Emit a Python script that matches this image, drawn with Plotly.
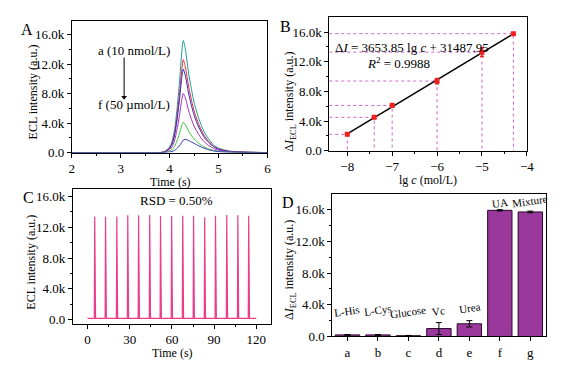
import plotly.graph_objects as go

# ---------- Panel A data (intensity in k a.u.) ----------
time_a = [2.0, 3.8, 3.9, 4.0, 4.05, 4.1, 4.15, 4.2, 4.25, 4.28, 4.32, 4.4, 4.5, 4.6, 4.7, 4.8, 4.9, 5.0, 5.2, 5.5, 6.0]
curve_teal = [0, 0, 0.15, 0.76, 1.52, 3.04, 5.78, 9.42, 13.7, 15.2, 14.1, 10.3, 6.84, 4.56, 2.89, 1.82, 1.06, 0.61, 0.23, 0.08, 0]
curve_red = [0, 0, 0.13, 0.63, 1.26, 2.52, 4.79, 7.81, 11.3, 12.6, 11.7, 8.57, 5.67, 3.78, 2.39, 1.51, 0.88, 0.5, 0.19, 0.06, 0]
curve_blue = [0, 0, 0.11, 0.57, 1.13, 2.26, 4.29, 7.01, 10.2, 11.3, 10.5, 7.68, 5.09, 3.39, 2.15, 1.36, 0.79, 0.45, 0.17, 0.06, 0]
curve_purple = [0, 0, 0.08, 0.4, 0.8, 1.6, 3.04, 4.96, 7.2, 8.0, 7.44, 5.44, 3.6, 2.4, 1.52, 0.96, 0.56, 0.32, 0.12, 0.04, 0]
curve_green = [0, 0, 0.04, 0.21, 0.41, 0.82, 1.56, 2.54, 3.69, 4.1, 3.81, 2.79, 1.85, 1.23, 0.78, 0.49, 0.29, 0.16, 0.06, 0.02, 0]
curve_navy = [0, 0, 0.02, 0.08, 0.15, 0.3, 0.55, 0.9, 1.4, 1.7, 1.8, 1.6, 1.25, 0.9, 0.6, 0.38, 0.23, 0.13, 0.05, 0.02, 0]
curves_a = [curve_teal, curve_red, curve_blue, curve_purple, curve_green, curve_navy]
colors_a = ["#1A9E96", "#F0282D", "#2B2BC8", "#A030B0", "#3CC03C", "#3838C0"]

# ---------- Panel B data ----------
lgc = [-8, -7.4, -7, -6, -5, -4.3]
dI = [2.2, 4.5, 6.1, 9.4, 13.3, 15.8]
dI_err = [0.1, 0.15, 0.25, 0.35, 0.6, 0.1]
slope = 3.65385
intercept = 31.48795

# ---------- Panel C data ----------
peak_times = [5.1, 12.8, 20.8, 28.6, 36.3, 44.2, 51.9, 59.8, 67.7, 75.4, 83.3, 91.0, 99.0, 106.9, 114.6]
peak_heights = [13.4, 13.35, 13.4, 13.55, 13.55, 13.6, 13.45, 13.45, 13.5, 13.5, 13.3, 13.5, 13.6, 13.55, 13.5]
baseline_c = 0.15

# ---------- Panel D data ----------
cats_d = ["a", "b", "c", "d", "e", "f", "g"]
names_d = ["L-His", "L-Cys", "Glucose", "Vc", "Urea", "UA", "Mixture"]
vals_d = [0.2, 0.2, 0.1, 1.0, 1.6, 15.9, 15.7]
errs_d = [0.05, 0.05, 0.03, 0.75, 0.4, 0.08, 0.1]
label_y_d = [3.2, 3.3, 3.1, 3.2, 3.6, 16.8, 17.1]

FONT = "Liberation Serif"
ytick_vals = [0, 4, 8, 12, 16]
ytick_text = ["0.0", "4.0k", "8.0k", "12.0k", "16.0k"]

W, H = 583, 366

fig = go.Figure()

# Panel A
for ys, col in zip(curves_a, colors_a):
    fig.add_trace(go.Scatter(x=time_a, y=ys, mode="lines", line=dict(color=col, width=1, shape="spline", smoothing=0.6),
                             xaxis="x", yaxis="y", showlegend=False))
# arrow in panel A (shaft + head)
fig.add_trace(go.Scatter(x=[3.07, 3.07], y=[12.9, 7.6], mode="lines", line=dict(color="black", width=1),
                         xaxis="x", yaxis="y", showlegend=False))
fig.add_trace(go.Scatter(x=[3.07], y=[7.5], mode="markers", marker=dict(symbol="triangle-down", size=5, color="black"),
                         xaxis="x", yaxis="y", showlegend=False))

# Panel B dotted guide lines
for xv, yv in zip(lgc, dI):
    fig.add_trace(go.Scatter(x=[-8.4, xv, xv], y=[yv, yv, 0], mode="lines",
                             line=dict(color="#CC66CC", width=1, dash="dot"),
                             xaxis="x2", yaxis="y2", showlegend=False))
fit_x = [lgc[0], lgc[-1]]
fig.add_trace(go.Scatter(x=fit_x, y=[slope * v + intercept for v in fit_x], mode="lines",
                         line=dict(color="black", width=1.5), xaxis="x2", yaxis="y2", showlegend=False))
fig.add_trace(go.Scatter(x=lgc, y=dI, mode="markers",
                         marker=dict(symbol="square", size=5, color="#F02020"),
                         error_y=dict(type="data", array=dI_err, color="#F02020", thickness=1.5, width=2),
                         xaxis="x2", yaxis="y2", showlegend=False))

# Panel C
cx = [0]
cy = [baseline_c]
for t, h in zip(peak_times, peak_heights):
    cx += [t - 0.3, t, t + 0.6]
    cy += [baseline_c, h, baseline_c]
cx.append(120)
cy.append(baseline_c)
fig.add_trace(go.Scatter(x=cx, y=cy, mode="lines", line=dict(color="#EC3C8C", width=1.2),
                         xaxis="x3", yaxis="y3", showlegend=False))

# Panel D
fig.add_trace(go.Bar(x=cats_d, y=vals_d, width=0.8,
                     marker=dict(color="#9A389C", line=dict(color="#2A0A2A", width=1)),
                     error_y=dict(type="data", array=errs_d, color="black", thickness=1, width=3),
                     xaxis="x4", yaxis="y4", showlegend=False))

annotations = []
for c, n, ly in zip(cats_d, names_d, label_y_d):
    annotations.append(dict(x=c, y=ly, xref="x4", yref="y4", text=n, showarrow=False, textangle=-8,
                            font=dict(family=FONT, size=11, color="black")))

annotations += [
    dict(x=3.27, y=13.8, xref="x", yref="y", text="a (10 nmol/L)", showarrow=False, font=dict(size=13)),
    dict(x=3.27, y=6.5, xref="x", yref="y", text="f (50 µmol/L)", showarrow=False, font=dict(size=13)),
    dict(x=-6.55, y=13.9, xref="x2", yref="y2", text="Δ<i>I</i> = 3653.85 lg <i>c</i> + 31487.95",
         showarrow=False, font=dict(size=13)),
    dict(x=-6.85, y=11.8, xref="x2", yref="y2", text="<i>R</i><sup>2</sup> = 0.9988",
         showarrow=False, font=dict(size=13)),
    dict(x=63, y=15.5, xref="x3", yref="y3", text="RSD = 0.50%", showarrow=False, font=dict(size=13)),
]
for lab, px, py in [("A", 24, 30), ("B", 287, 27), ("C", 26, 202), ("D", 290, 207)]:
    annotations.append(dict(x=px / W, y=1 - py / H, xref="paper", yref="paper", text=lab, showarrow=False,
                            font=dict(size=16), xanchor="center", yanchor="middle"))

# axis titles placed as paper annotations
ytitles = [("ECL intensity (a.u.)", 30, 94), ("Δ<i>I</i><sub>ECL</sub> intensity (a.u.)", 292, 104),
           ("ECL intensity (a.u.)", 29, 268), ("Δ<i>I</i><sub>ECL</sub> intensity (a.u.)", 292, 276)]
for txt, px, py in ytitles:
    annotations.append(dict(x=px / W, y=1 - py / H, xref="paper", yref="paper", text=txt, showarrow=False,
                            textangle=-90, font=dict(size=12), xanchor="center", yanchor="middle"))
xtitles = [("Time (s)", 170, 178), ("lg <i>c</i> (mol/L)", 432, 176), ("Time (s)", 172, 353)]
for txt, px, py in xtitles:
    annotations.append(dict(x=px / W, y=1 - py / H, xref="paper", yref="paper", text=txt, showarrow=False,
                            font=dict(size=12), xanchor="center", yanchor="top", borderpad=0))


def ax(domain, anchor, rng, **kw):
    d = dict(domain=domain, anchor=anchor, range=rng, showline=True, mirror=True, linecolor="black",
             linewidth=1, ticks="outside", ticklen=4, tickcolor="black", showgrid=False, zeroline=False,
             tickfont=dict(size=13))
    d.update(kw)
    return d


dx = lambda a, b: [a / W, b / W]
dy = lambda top, bot: [1 - bot / H, 1 - top / H]
minor_y = dict(ticks="outside", ticklen=2, tickvals=[2, 6, 10, 14])

fig.update_layout(
    width=W, height=H, margin=dict(l=0, r=0, t=0, b=0),
    paper_bgcolor="white", plot_bgcolor="white",
    font=dict(family=FONT, size=13, color="black"),
    xaxis=ax(dx(70, 269), "y", [2, 6], tickvals=[2, 3, 4, 5, 6],
             minor=dict(ticks="outside", ticklen=2, dtick=0.5)),
    yaxis=ax(dy(21, 156), "x", [0, 17.9], tickvals=ytick_vals, ticktext=ytick_text, minor=minor_y),
    xaxis2=ax(dx(332, 533), "y2", [-8.4, -4], tickvals=[-8, -7, -6, -5, -4],
              minor=dict(ticks="outside", ticklen=2, tickvals=[-7.5, -6.5, -5.5, -4.5])),
    yaxis2=ax(dy(17, 154), "x2", [0, 18.1], tickvals=ytick_vals, ticktext=ytick_text, minor=minor_y),
    xaxis3=ax(dx(71, 273), "y3", [-10.5, 130.7], tickvals=[0, 30, 60, 90, 120],
              minor=dict(ticks="outside", ticklen=2, tickvals=[15, 45, 75, 105])),
    yaxis3=ax(dy(193, 331), "x3", [-0.55, 17.0], tickvals=ytick_vals, ticktext=ytick_text, minor=minor_y),
    xaxis4=ax(dx(335, 552), "y4", [-0.5, 6.5], type="category"),
    yaxis4=ax(dy(198, 344), "x4", [0, 18.0], tickvals=ytick_vals, ticktext=ytick_text, minor=minor_y),
    annotations=annotations,
)

fig.write_html("out.html", config={"displayModeBar": False},
               post_script="document.body.style.margin='0';document.body.style.overflow='hidden';")
